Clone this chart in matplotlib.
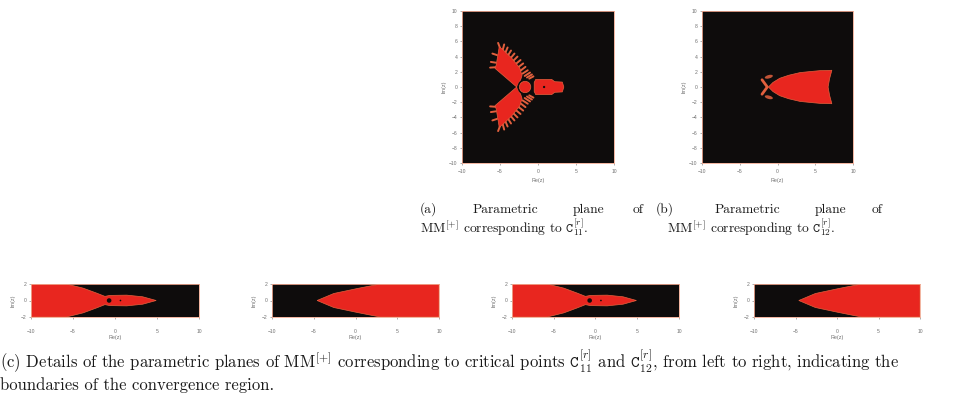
import matplotlib
matplotlib.use("Agg")
import matplotlib.pyplot as plt
from matplotlib.patches import Polygon, Circle, Ellipse

plt.rcParams['mathtext.fontset'] = 'cm'

W, H = 958, 394

# ---------------- data ----------------
# panel (a): upper wing of convergence region (lower wing is its mirror)
wing_x = [-2.8, -5.65, -5.5, -5.1, -4.6, -3.5, -2.4, -2.1, -2.3, -2.6]
wing_y = [0.0, 2.45, 2.9, 5.3, 4.9, 3.85, 2.5, 1.5, 0.9, 0.4]
# spikes (fringe) of the upper wing: base -> tip
spike_x0 = [-5.0, -4.65, -4.3, -3.95, -3.6, -3.25, -2.9, -2.6, -2.3, -2.05, -1.75, -1.45, -1.15, -5.6, -5.55, -5.4]
spike_y0 = [5.15, 4.85, 4.5, 4.15, 3.8, 3.45, 3.05, 2.6, 2.15, 1.75, 1.45, 1.25, 1.1, 2.6, 3.2, 4.2]
spike_x1 = [-5.25, -4.45, -4.0, -3.55, -3.1, -2.7, -2.3, -1.95, -1.65, -1.35, -1.05, -0.8, -0.6, -6.3, -6.2, -6.0]
spike_y1 = [5.8, 5.6, 5.2, 4.8, 4.4, 4.0, 3.55, 3.1, 2.65, 2.2, 1.9, 1.65, 1.4, 2.55, 3.3, 4.4]
head_center = (-1.7, 0.0)
head_radius = 0.75
ring_radius = 1.0
body_x = [-0.5, -0.3, 1.8, 2.2, 3.2, 3.4, 3.2, 2.2, 1.8, -0.3, -0.5]
body_y = [0.6, 1.0, 1.0, 0.7, 0.65, 0.0, -0.65, -0.7, -1.0, -1.0, -0.6]
body_hole = (0.8, 0.0)

# panel (b): bullet-shaped convergence region
cone_x = [-1.2, -0.6, 0.3, 1.5, 3.0, 4.5, 5.6, 7.2, 6.9, 6.7, 6.9, 7.2,
          5.6, 4.5, 3.0, 1.5, 0.3, -0.6]
cone_y = [0.0, 0.6, 1.15, 1.55, 1.9, 2.05, 2.15, 2.2, 1.1, 0.0, -1.1, -2.2,
          -2.15, -2.05, -1.9, -1.55, -1.15, -0.6]
arm_x = [-2.05, -1.35, -2.05]
arm_y = [0.95, 0.0, -0.95]
blob_x = [-1.15, -1.15]
blob_y = [1.35, -1.35]

# panels (c): zoomed strips, upper boundaries (mirrored below)
c11_x = [-10.0, -5.8, -3.8, -2.2, -1.2, -0.6, 1.4, 3.3, 4.9]
c11_y = [2.0, 2.0, 1.5, 0.9, 0.5, 0.62, 0.65, 0.45, 0.0]
c11_hole = (-0.7, 0.0)
c11_dot = (0.65, 0.0)
c12_x = [-4.6, -2.6, 0.2, 2.2, 3.0, 10.0]
c12_y = [0.0, 0.85, 1.45, 1.85, 2.0, 2.0]

xticks = [-10, -5, 0, 5, 10]
yticks_big = [10, 8, 6, 4, 2, 0, -2, -4, -6, -8, -10]
yticks_small = [2, 0, -2]

# ---------------- styles ----------------
BG = '#0e0c0c'
RED = '#e8261f'
FRINGE = '#e2603e'
EDGE = '#f0a890'
TICKC = '#707070'

fig = plt.figure(figsize=(W / 100, H / 100), dpi=100)
fig.patch.set_facecolor('white')


def add_ax(x0, y0, x1, y1, xpad):
    ax = fig.add_axes([x0 / W, 1 - y1 / H, (x1 - x0) / W, (y1 - y0) / H])
    ax.set_facecolor(BG)
    for s in ax.spines.values():
        s.set_color(EDGE)
        s.set_linewidth(0.6)
    ax.tick_params(direction='out', length=1.5, width=0.4, colors=TICKC,
                   labelsize=3.6, pad=1.8)
    ax.tick_params(axis='x', pad=xpad)
    return ax


def label(ax, xlab_pad, ylab_pad):
    ax.set_xlabel('Re(z)', fontsize=3.9, color=TICKC, labelpad=xlab_pad,
                  family='Liberation Sans')
    ax.set_ylabel('Im(z)', fontsize=3.9, color=TICKC, labelpad=ylab_pad,
                  family='Liberation Sans')
    for lab in ax.get_xticklabels() + ax.get_yticklabels():
        lab.set_family('Liberation Sans')


def mirror(xs, ys):
    px = list(xs) + list(reversed(xs))
    py = list(ys) + [-v for v in reversed(ys)]
    return list(zip(px, py))


# ---- panel (a) ----
axa = add_ax(462, 11, 614, 163, 3.0)
axa.set_xlim(-10, 10)
axa.set_ylim(-10, 10)
for sgn in (1, -1):
    for x0, y0, x1, y1 in zip(spike_x0, spike_y0, spike_x1, spike_y1):
        axa.plot([x0, x1], [sgn * y0, sgn * y1], color=FRINGE, lw=1.4,
                 solid_capstyle='round', zorder=1)
    axa.add_patch(Polygon(list(zip(wing_x, [sgn * v for v in wing_y])),
                          closed=True, fc=RED, ec=FRINGE, lw=0.5, zorder=2))
axa.add_patch(Circle(head_center, ring_radius, fc=BG, ec='none', zorder=3))
axa.add_patch(Circle(head_center, head_radius, fc=RED, ec=FRINGE, lw=0.5, zorder=4))
axa.add_patch(Polygon(list(zip(body_x, body_y)), closed=True, fc=RED,
                      ec=FRINGE, lw=0.5, zorder=2))
axa.add_patch(Circle(body_hole, 0.15, fc=BG, ec='none', zorder=3))
axa.set_xticks(xticks)
axa.set_yticks(yticks_big)
label(axa, 2.5, 2.0)

# ---- panel (b) ----
axb = add_ax(702, 11, 853, 163, 3.0)
axb.set_xlim(-10, 10)
axb.set_ylim(-10, 10)
axb.add_patch(Polygon(list(zip(cone_x, cone_y)), closed=True, fc=RED,
                      ec=FRINGE, lw=0.5, zorder=2))
axb.plot(arm_x, arm_y, color=FRINGE, lw=2.0, solid_capstyle='round', zorder=2)
for bx, by in zip(blob_x, blob_y):
    axb.add_patch(Ellipse((bx, by), 1.1, 0.45, angle=15 * (1 if by > 0 else -1),
                          fc=FRINGE, ec='none', alpha=0.85, zorder=2))
axb.set_xticks(xticks)
axb.set_yticks(yticks_big)
label(axb, 2.5, 2.0)

# ---- panels (c) ----
strip_pos = [(31, 284, 199, 317), (272, 284, 439, 317),
             (512, 284, 679, 317), (754, 284, 920, 317)]
for i, (x0, y0, x1, y1) in enumerate(strip_pos):
    ax = add_ax(x0, y0, x1, y1, 7.0)
    ax.set_xlim(-10, 10)
    ax.set_ylim(-2, 2)
    if i % 2 == 0:
        ax.add_patch(Polygon(mirror(c11_x, c11_y), closed=True, fc=RED,
                             ec=FRINGE, lw=0.5, zorder=2))
        ax.add_patch(Ellipse(c11_hole, 0.55, 0.55, fc=BG, ec='none', zorder=3))
        ax.add_patch(Ellipse(c11_dot, 0.2, 0.2, fc=BG, ec='none', zorder=3))
    else:
        pts = list(zip(c12_x, c12_y)) + [(10.0, -2.0)] + \
              [(x, -y) for x, y in reversed(list(zip(c12_x[:-1], c12_y[:-1])))]
        ax.add_patch(Polygon(pts, closed=True, fc=RED, ec=FRINGE, lw=0.5, zorder=2))
    ax.set_xticks(xticks)
    ax.set_yticks(yticks_small)
    label(ax, 0.8, 4.0)

# ---------------- captions ----------------
CAP = dict(family='cmr10', color='#1a1a1a', va='baseline', ha='left')


def ftext(x, y, s, size):
    fig.text(x / W, 1 - y / H, s, fontsize=size, **CAP)


cs = 9.7
for word, x in zip(['(a)', 'Parametric', 'plane', 'of'], [420, 473, 573, 633]):
    ftext(x, 213, word, cs)
for word, x in zip(['(b)', 'Parametric', 'plane', 'of'], [656, 715, 815, 872]):
    ftext(x, 213, word, cs)
ftext(420, 233, r'MM$^{[+]}$ corresponding to $\mathtt{C}_{11}^{[r]}$.', cs)
ftext(667, 233, r'MM$^{[+]}$ corresponding to $\mathtt{C}_{12}^{[r]}$.', cs)

bs = 12.0
ftext(0, 368, r'(c) Details of the parametric planes of MM$^{[+]}$ corresponding to '
      r'critical points $\mathtt{C}_{11}^{[r]}$ and $\mathtt{C}_{12}^{[r]}$, from left '
      r'to right, indicating the', bs)
ftext(0, 390, 'boundaries of the convergence region.', bs)

fig.savefig('out.png', dpi=100, facecolor='white')
